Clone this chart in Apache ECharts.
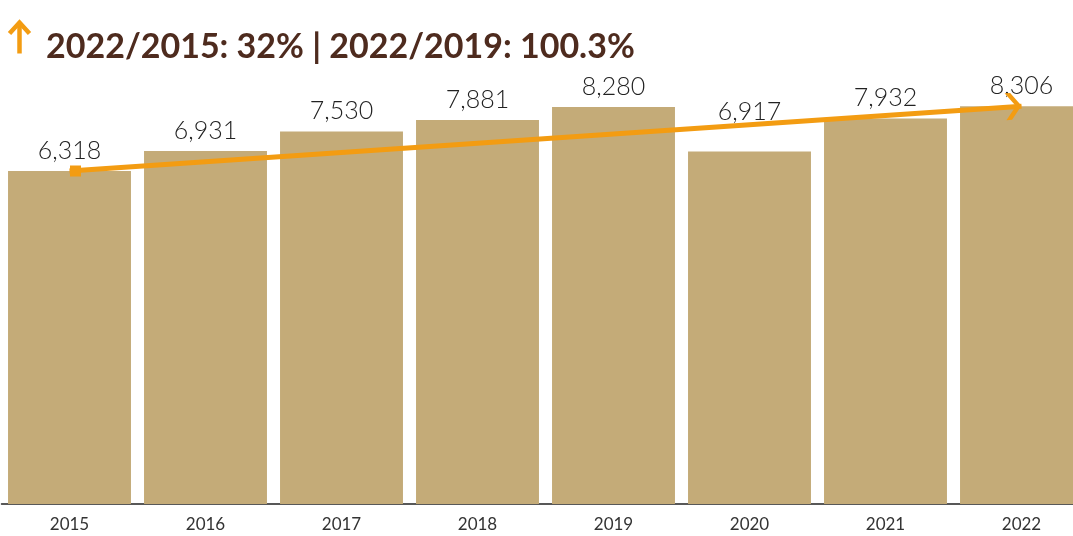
<!DOCTYPE html>
<html><head><meta charset="utf-8">
<script src="https://cdn.jsdelivr.net/npm/echarts@6/dist/echarts.min.js"></script>
<style>html,body{margin:0;padding:0;background:#fff}#c{width:1073px;height:536px}</style>
</head><body><div id="c"></div>
<script>
const years = ['2015','2016','2017','2018','2019','2020','2021','2022'];
const visitors = [6318, 6931, 7530, 7881, 8280, 6917, 7932, 8306];
const trendLine = [6318, null, null, null, null, null, null, 8306];
const titleText = '2022/2015: 32% | 2022/2019: 100.3%';

const chart = echarts.init(document.getElementById('c'), null, {renderer:'canvas'});
const barData = visitors.map((v, i) => i === 5 ? {value: v, label: {distance: 27}} : v);
const lineData = trendLine.map((v, i) => {
  if (v == null) return '-';
  if (i === 0) return {value: v, symbol: 'rect', symbolSize: 11, symbolOffset: [6, 0]};
  return {value: v, symbol: 'path://M0,0 L6,0 L17,12 L6,24 L0,24 L11,12 Z',
          symbolSize: [16, 27], symbolOffset: [-8, 0], symbolRotate: 4, symbolKeepAspect: false};
});
chart.setOption({
  animation: false,
  title: {
    left: 41, top: 25,
    text: titleText,
    textStyle: {color: '#4E2B1E', fontSize: 34, fontWeight: 'bold', fontFamily: 'Lato'}
  },
  graphic: [{
    type: 'group', left: 7, top: 20,
    children: [
      {type: 'line', shape: {x1: 11, y1: 3, x2: 11, y2: 33}, style: {stroke: '#F39C12', lineWidth: 4.5}},
      {type: 'polyline', shape: {points: [[1, 13], [11, 2], [21, 13]]}, style: {stroke: '#F39C12', lineWidth: 4.5, fill: null}}
    ]
  }],
  grid: {left: 1.5, width: 1088, top: 51, bottom: 32, containLabel: false, outerBoundsMode: 'none'},
  xAxis: {
    type: 'category', data: years,
    axisTick: {show: false},
    axisLine: {onZero: false, lineStyle: {color: '#222', width: 1.5}},
    axisLabel: {color: '#333', fontSize: 17, fontFamily: 'Lato', margin: 12}
  },
  yAxis: {
    type: 'value', min: -3900, max: 10000, startValue: -3900,
    show: false, splitLine: {show: false}
  },
  series: [{
    type: 'bar', data: barData, barCategoryGap: '9.6%',
    itemStyle: {color: '#C4AB78'},
    label: {show: true, position: 'top', distance: 8, color: '#222', fontSize: 25,
      fontFamily: 'Lato', fontWeight: 300,
      formatter: p => p.value.toLocaleString('en-US')}
  }, {
    type: 'line', data: lineData, connectNulls: true,
    lineStyle: {color: '#F39C12', width: 5},
    itemStyle: {color: '#F39C12'},
    showSymbol: true, showAllSymbol: true, z: 5
  }]
});
</script></body></html>
